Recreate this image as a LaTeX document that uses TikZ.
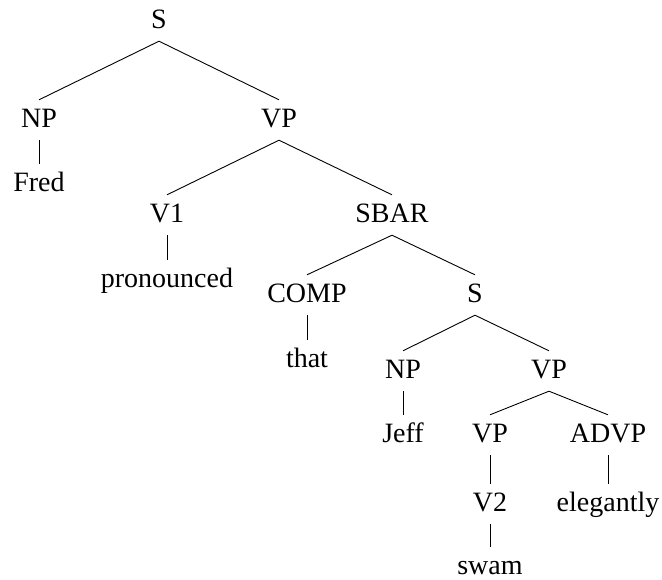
\documentclass[tikz,border=0pt]{standalone}
\usepackage{fontspec}
\setmainfont{Liberation Serif}
\begin{document}
\begin{tikzpicture}[x=1pt,y=-1pt,
  lab/.style={anchor=base,inner xsep=0pt,inner ysep=8pt,text height=19pt,text depth=5pt,font=\fontsize{28}{32}\selectfont},
  leaf/.style={anchor=base,inner xsep=0pt,inner ysep=0pt,text height=27pt,text depth=0pt,font=\fontsize{28}{32}\selectfont},
  edge/.style={draw=black,line width=0.9pt}]
\useasboundingbox (0,0) rectangle (662,579);
\node[lab] (s)  at (159,28) {S};
\node[lab] (np) at (39,127) {NP};
\node[lab] (vp) at (279,127) {VP};
\node[leaf] (fred) at (39,191) {Fred};
\node[lab] (v1) at (167,222) {V1};
\node[lab] (sbar) at (392,222) {SBAR};
\node[leaf] (pron) at (167,287) {pronounced};
\node[lab] (comp) at (307,302) {COMP};
\node[lab] (s2) at (475,302) {S};
\node[leaf] (that) at (307,367) {that};
\node[lab] (np2) at (403,378) {NP};
\node[lab] (vp2) at (549,378) {VP};
\node[leaf] (jeff) at (403,442) {Jeff};
\node[lab] (vp3) at (490,442) {VP};
\node[lab] (advp) at (608,442) {ADVP};
\node[lab] (v2) at (490,511) {V2};
\node[leaf] (eleg) at (608,511) {elegantly};
\node[leaf] (swam) at (490,574) {swam};
\draw[edge] (s.south) -- (np.north);
\draw[edge] (s.south) -- (vp.north);
\draw[edge] (np.south) -- (fred.north);
\draw[edge] (vp.south) -- (v1.north);
\draw[edge] (vp.south) -- (sbar.north);
\draw[edge] (v1.south) -- (pron.north);
\draw[edge] (sbar.south) -- (comp.north);
\draw[edge] (sbar.south) -- (s2.north);
\draw[edge] (comp.south) -- (that.north);
\draw[edge] (s2.south) -- (np2.north);
\draw[edge] (s2.south) -- (vp2.north);
\draw[edge] (np2.south) -- (jeff.north);
\draw[edge] (vp2.south) -- (vp3.north);
\draw[edge] (vp2.south) -- (advp.north);
\draw[edge] (vp3.south) -- (v2.north);
\draw[edge] (advp.south) -- (eleg.north);
\draw[edge] (v2.south) -- (swam.north);
\end{tikzpicture}
\end{document}
